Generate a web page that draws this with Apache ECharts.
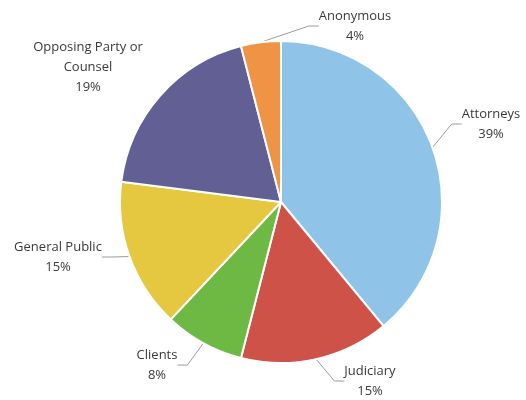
<!DOCTYPE html>
<html><head><meta charset="utf-8">
<script src="https://cdn.jsdelivr.net/npm/echarts@6/dist/echarts.min.js"></script>
<style>html,body{margin:0;padding:0;background:#fff}#c{width:526px;height:400px}</style>
</head><body><div id="c"></div>
<script>
const categories = ["Attorneys", "Judiciary", "Clients", "General Public", "Opposing Party or\nCounsel", "Anonymous"];
const values = [39, 15, 8, 15, 19, 4];
const colors = ["#8fc3e7", "#cf5249", "#6db944", "#e5c83f", "#625f94", "#ee9444"];
const showLine = [true, true, true, true, false, true];
const labelPos = [[491, 124], [370, 381], [157, 365], [58, 257], [88, 67], [355, 26]];

const chart = echarts.init(document.getElementById('c'));
chart.setOption({
  animation: false,
  series: [{
    type: 'pie',
    center: [281, 202],
    radius: [0, 161],
    startAngle: 90,
    clockwise: true,
    data: categories.map((n, i) => ({ name: n, value: values[i], itemStyle: { color: colors[i] }, labelLine: { show: showLine[i] } })),
    itemStyle: { borderColor: '#fff', borderWidth: 2 },
    label: {
      show: true,
      formatter: '{b}\n{d}%',
      fontFamily: 'Open Sans',
      fontSize: 13,
      lineHeight: 20,
      color: '#3a3a3a',
      align: 'center'
    },
    labelLine: { show: true, length: 10, length2: 10, lineStyle: { color: '#a09a98', width: 1 } },
    labelLayout: function (p) {
      const pos = labelPos[p.dataIndex];
      return { x: pos[0], y: pos[1], align: 'center', verticalAlign: 'middle' };
    }
  }]
});
</script></body></html>
